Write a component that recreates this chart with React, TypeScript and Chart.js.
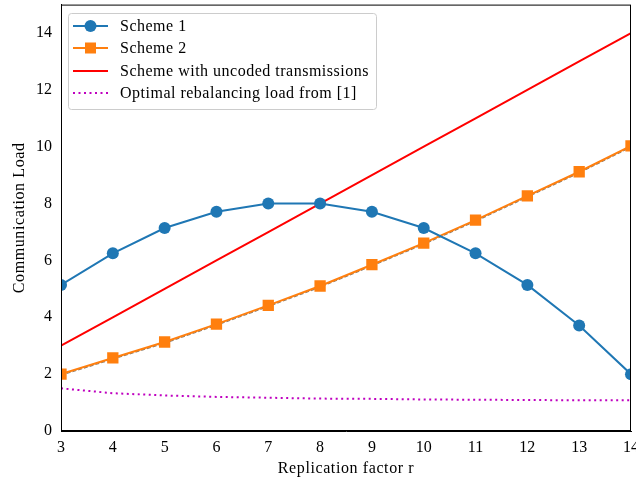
import React, { useEffect, useRef } from "react";
import { Chart, registerables } from "chart.js";

Chart.register(...registerables);

const rValues = [3, 4, 5, 6, 7, 8, 9, 10, 11, 12, 13, 14];
const scheme1 = [5.14, 6.25, 7.14, 7.71, 8.0, 8.0, 7.71, 7.14, 6.25, 5.14, 3.71, 2.0];
const scheme2 = [2.0, 2.57, 3.13, 3.76, 4.42, 5.1, 5.85, 6.61, 7.42, 8.27, 9.12, 10.03];
const scheme2Bound = [1.96, 2.53, 3.09, 3.72, 4.38, 5.06, 5.81, 6.57, 7.38, 8.23, 9.08, 9.99];
const uncoded = [3, 4, 5, 6, 7, 8, 9, 10, 11, 12, 13, 14];
const optimal = [1.5, 1.33, 1.25, 1.2, 1.17, 1.14, 1.13, 1.11, 1.1, 1.09, 1.08, 1.08];
const xTicks = [3, 4, 5, 6, 7, 8, 9, 10, 11, 12, 13, 14];
const yTicks = [0, 2, 4, 6, 8, 10, 12, 14];
const xTitle = "Replication factor r";
const yTitle = "Communication Load";

const FONT = "'Liberation Serif', 'DejaVu Serif', serif";
const OFFSET_Y = 10; // canvas is shifted up by this many px
const CANVAS_W = 642;
const CANVAS_H = 480 + OFFSET_Y;

const pts = (ys: number[]) => ys.map((y, i) => ({ x: rValues[i], y }));

const legendItems = [
  { label: "Scheme 1", color: "#1f77b4", marker: "circle", dash: [] as number[] },
  { label: "Scheme 2", color: "#ff7f0e", marker: "square", dash: [] as number[] },
  { label: "Scheme with uncoded transmissions", color: "#ff0000", marker: "", dash: [] as number[] },
  { label: "Optimal rebalancing load from [1]", color: "#bf00bf", marker: "", dash: [2, 3.5] },
];

const framePlugin = {
  id: "frameAndLegend",
  afterDraw(chart: any) {
    const { ctx, chartArea } = chart;
    ctx.save();
    ctx.strokeStyle = "#000";
    ctx.lineWidth = 1;
    ctx.strokeRect(chartArea.left + 0.5, chartArea.top + 0.5, chartArea.right - chartArea.left - 1, chartArea.bottom - chartArea.top - 1);

    // axis titles
    ctx.fillStyle = "#000";
    ctx.font = `16px ${FONT}`;
    (ctx as any).letterSpacing = "0.6px";
    ctx.textAlign = "center";
    ctx.textBaseline = "middle";
    const cx = (chartArea.left + chartArea.right) / 2;
    const cy = (chartArea.top + chartArea.bottom) / 2;
    ctx.fillText(xTitle, cx, 469 + OFFSET_Y);
    ctx.save();
    ctx.translate(20, cy);
    ctx.rotate(-Math.PI / 2);
    ctx.fillText(yTitle, 0, 0);
    ctx.restore();

    // legend box
    const bx = 68, by = 13 + OFFSET_Y, bw = 308, bh = 96;
    ctx.fillStyle = "rgba(255,255,255,0.8)";
    ctx.strokeStyle = "#cccccc";
    ctx.lineWidth = 1;
    ctx.beginPath();
    (ctx as any).roundRect(bx + 0.5, by + 0.5, bw, bh, 3);
    ctx.fill();
    ctx.stroke();

    const rows = [26, 48, 71, 93];
    legendItems.forEach((it, i) => {
      const y = rows[i] + OFFSET_Y;
      ctx.strokeStyle = it.color;
      ctx.lineWidth = 2;
      ctx.setLineDash(it.dash);
      ctx.beginPath();
      ctx.moveTo(73, y);
      ctx.lineTo(108, y);
      ctx.stroke();
      ctx.setLineDash([]);
      ctx.fillStyle = it.color;
      if (it.marker === "circle") {
        ctx.beginPath();
        ctx.arc(90.5, y, 6, 0, Math.PI * 2);
        ctx.fill();
      } else if (it.marker === "square") {
        ctx.fillRect(85, y - 5.5, 11, 11);
      }
      ctx.fillStyle = "#000";
      ctx.font = `16px ${FONT}`;
      (ctx as any).letterSpacing = "0.5px";
      ctx.textBaseline = "middle";
      ctx.textAlign = "left";
      ctx.fillText(it.label, 120, y + 1);
    });
    ctx.restore();
  },
};

export default function App() {
  const ref = useRef<HTMLCanvasElement>(null);
  useEffect(() => {
    if (!ref.current) return;
    const chart = new Chart(ref.current, {
      type: "line",
      data: {
        datasets: [
          {
            label: "Optimal rebalancing load from [1]",
            data: pts(optimal),
            borderColor: "#bf00bf",
            borderWidth: 2,
            borderDash: [2, 3.5],
            pointRadius: 0,
            fill: false,
            order: 4,
          },
          {
            label: "Scheme with uncoded transmissions",
            data: pts(uncoded),
            borderColor: "#ff0000",
            borderWidth: 2,
            pointRadius: 0,
            fill: false,
            order: 3,
          },
          {
            label: "bound",
            data: pts(scheme2Bound),
            borderColor: "rgba(90,70,50,0.7)",
            borderWidth: 1.2,
            borderDash: [4, 2],
            pointRadius: 0,
            fill: false,
            order: 2.5,
          },
          {
            label: "Scheme 2",
            data: pts(scheme2),
            borderColor: "#ff7f0e",
            backgroundColor: "#ff7f0e",
            borderWidth: 2,
            pointStyle: "rect",
            pointRadius: 8,
            pointBorderWidth: 0,
            fill: false,
            order: 2,
          },
          {
            label: "Scheme 1",
            data: pts(scheme1),
            borderColor: "#1f77b4",
            backgroundColor: "#1f77b4",
            borderWidth: 2,
            pointStyle: "circle",
            pointRadius: 6,
            pointBorderWidth: 0,
            fill: false,
            order: 1,
          },
        ],
      },
      options: {
        animation: false,
        responsive: false,
        layout: { padding: 0 },
        plugins: { legend: { display: false }, tooltip: { enabled: false } },
        scales: {
          x: {
            type: "linear",
            min: 3,
            max: 14,
            grid: { display: false, drawTicks: true, tickLength: 4, tickColor: "#000" } as any,
            border: { color: "#000", width: 1 },
            ticks: { color: "#000", font: { family: FONT, size: 16 }, padding: 3, autoSkip: false, maxRotation: 0 },
            afterBuildTicks: (axis: any) => {
              axis.ticks = xTicks.map((v) => ({ value: v }));
            },
            afterFit: (axis: any) => {
              axis.height = 49;
            },
          },
          y: {
            type: "linear",
            min: 0,
            max: 15,
            grid: { display: false, drawTicks: true, tickLength: 4, tickColor: "#000" } as any,
            border: { color: "#000", width: 1 },
            ticks: { color: "#000", font: { family: FONT, size: 16 }, padding: 5 },
            afterBuildTicks: (axis: any) => {
              axis.ticks = yTicks.map((v) => ({ value: v }));
            },
            afterFit: (axis: any) => {
              axis.width = 61;
            },
          },
        },
      },
      plugins: [framePlugin],
    });
    return () => chart.destroy();
  }, []);
  return (
    <div style={{ position: "fixed", left: 0, top: 0, width: 636, height: 480, overflow: "hidden", background: "#fff" }}>
      <canvas
        ref={ref}
        width={CANVAS_W}
        height={CANVAS_H}
        style={{ position: "absolute", left: 0, top: -OFFSET_Y, width: CANVAS_W, height: CANVAS_H }}
      />
    </div>
  );
}
